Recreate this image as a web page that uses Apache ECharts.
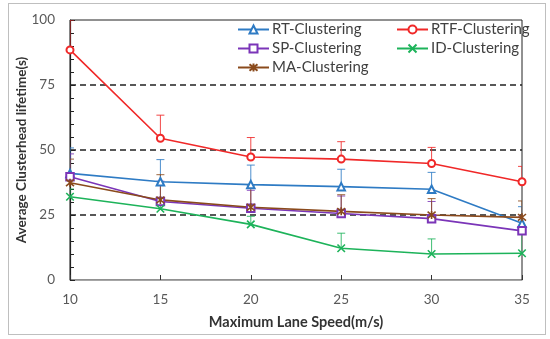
<!DOCTYPE html>
<html>
<head>
<meta charset="utf-8">
<script src="https://cdn.jsdelivr.net/npm/echarts@6/dist/echarts.min.js"></script>
<style>
html,body{margin:0;padding:0;background:#fff;}
#frame{position:absolute;left:8px;top:3px;width:538px;height:332px;border:1px solid #bfbfbf;box-sizing:border-box;}
#chart{position:absolute;left:0;top:0;width:550px;height:339px;}
</style>
</head>
<body>
<div id="frame"></div>
<div id="chart"></div>
<script>
const speeds = [10, 15, 20, 25, 30, 35];
const yTicks = [0, 25, 50, 75, 100];

const rtValues  = [41.0, 37.8, 36.7, 35.9, 34.9, 21.8];
const rtErrTop  = [50.8, 46.3, 44.2, 42.6, 41.4, 28.2];
const rtfValues = [88.5, 54.5, 47.3, 46.5, 44.8, 37.8];
const rtfErrTop = [100, 63.4, 54.8, 53.2, 51.0, 43.7];
const spValues  = [39.7, 30.2, 27.6, 25.6, 23.6, 18.9];
const spErrTop  = [48.5, 38.0, 34.5, 32.3, 30.2, 24.5];
const maValues  = [37.4, 30.8, 28.0, 26.4, 25.0, 24.1];
const maErrTop  = [46.5, 40.5, 36.5, 32.8, 31.3, 30.4];
const idValues  = [32.0, 27.4, 21.4, 12.2, 10.0, 10.3];
const idErrTop  = [35.0, 31.0, 24.5, 18.0, 15.8, 17.5];

const names = ['RT-Clustering', 'RTF-Clustering', 'SP-Clustering', 'ID-Clustering', 'MA-Clustering'];
const colors = ['#2E7BC4', '#F02828', '#7B35B8', '#1DB35A', '#8A4A1C'];
const symbols = ['emptyTriangle', 'emptyCircle', 'emptyRect',
  'path://M0,0L10,10M10,0L0,10',
  'path://M0,0L10,10M10,0L0,10M5,-1L5,11'];
const symSizes = [7.5, 7, 7.5, 7.5, 8];
const valuesList = [rtValues, rtfValues, spValues, idValues, maValues];
const errList = [rtErrTop, rtfErrTop, spErrTop, idErrTop, maErrTop];

const FONT = 'Lato, "Open Sans", sans-serif';

const series = [];
names.forEach((n, i) => {
  const c = colors[i];
  series.push({
    type: 'custom',
    name: n + ' err',
    z: 1,
    clip: true,
    data: speeds.map((s, k) => [s, valuesList[i][k], errList[i][k]]),
    encode: { x: 0, y: [1, 2] },
    renderItem: function (params, api) {
      const x = api.value(0), lo = api.value(1), hi = api.value(2);
      const p1 = api.coord([x, lo]), p2 = api.coord([x, hi]);
      return {
        type: 'group',
        children: [
          { type: 'line', shape: { x1: p1[0], y1: p1[1], x2: p2[0], y2: p2[1] }, style: { stroke: c, lineWidth: 1, opacity: 0.85 } },
          { type: 'line', shape: { x1: p2[0] - 4, y1: p2[1], x2: p2[0] + 4, y2: p2[1] }, style: { stroke: c, lineWidth: 1, opacity: 0.85 } }
        ]
      };
    },
    silent: true
  });
});
names.forEach((n, i) => {
  const c = colors[i];
  const isPath = symbols[i].startsWith('path');
  series.push({
    type: 'line',
    name: n,
    z: 3,
    data: speeds.map((s, k) => [s, valuesList[i][k]]),
    symbol: symbols[i],
    symbolSize: symSizes[i],
    showAllSymbol: true,
    lineStyle: { color: c, width: 1.6 },
    itemStyle: isPath ? { color: c, borderColor: c, borderWidth: 1.6 } : { color: c, borderColor: c, borderWidth: 1.4 },
    emphasis: { disabled: true },
    animation: false
  });
});

const legendPos = [
  { name: 'RT-Clustering', left: 237, top: 22 },
  { name: 'RTF-Clustering', left: 396, top: 22 },
  { name: 'SP-Clustering', left: 237, top: 41 },
  { name: 'ID-Clustering', left: 396, top: 41 },
  { name: 'MA-Clustering', left: 237, top: 60 }
];

const chart = echarts.init(document.getElementById('chart'), null, { renderer: 'canvas' });
chart.setOption({
  animation: false,
  textStyle: { fontFamily: FONT },
  grid: { left: 70, right: 28, top: 20, bottom: 59, show: true, borderColor: '#222', borderWidth: 1, backgroundColor: 'transparent' },
  legend: legendPos.map(l => ({
    data: [l.name],
    left: l.left,
    top: l.top,
    itemWidth: 31,
    itemHeight: 10,
    itemGap: 0,
    padding: 0,
    selectedMode: false,
    textStyle: { fontFamily: FONT, fontSize: 15, color: '#404040', padding: [0, 0, 0, -2] }
  })),
  xAxis: {
    type: 'value',
    min: speeds[0],
    max: speeds[speeds.length - 1],
    interval: 5,
    name: 'Maximum Lane Speed(m/s)',
    nameLocation: 'middle',
    nameGap: 35,
    nameTextStyle: { fontFamily: FONT, fontSize: 14.5, fontWeight: 'bold', color: '#333' },
    axisLine: { show: true, lineStyle: { color: '#a6a6a6', width: 1 } },
    axisTick: { show: true, inside: true, length: 5, lineStyle: { color: '#333' } },
    axisLabel: { fontFamily: FONT, fontSize: 13.5, color: '#595959', margin: 13 },
    splitLine: { show: false }
  },
  yAxis: {
    type: 'value',
    min: yTicks[0],
    max: yTicks[yTicks.length - 1],
    interval: 25,
    name: 'Average Clusterhead lifetime(s)',
    nameLocation: 'middle',
    nameMoveOverlap: false,
    nameGap: 41,
    nameTextStyle: { fontFamily: FONT, fontSize: 13.5, fontWeight: 'bold', color: '#333' },
    axisLine: { show: true, lineStyle: { color: '#222', width: 1.2 } },
    axisTick: { show: true, inside: true, length: 5, lineStyle: { color: '#222' } },
    minorTick: { show: true, splitNumber: 5, length: 4, lineStyle: { color: '#222' } },
    axisLabel: { fontFamily: FONT, fontSize: 13.5, color: '#595959', margin: 15 },
    splitLine: { show: true, lineStyle: { type: [6, 4], width: 1.5, color: ['rgba(0,0,0,0)', '#222', '#222', '#222', 'rgba(0,0,0,0)'] } }
  },
  series: series
});
</script>
</body>
</html>
